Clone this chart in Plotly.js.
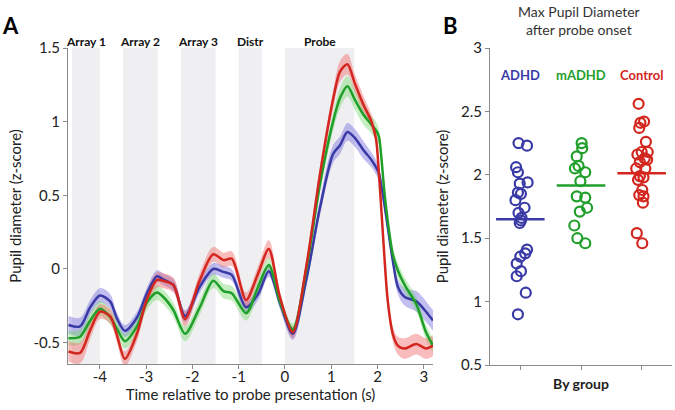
<!DOCTYPE html>
<html>
<head>
<meta charset="utf-8">
<script src="https://cdn.plot.ly/plotly-3.0.1.min.js"></script>
<style>
  html, body { margin: 0; padding: 0; background: #fff; }
  #chart { width: 675px; height: 410px; }
</style>
</head>
<body>
<div id="chart"></div>
<script>
// panel A: pupil time course (z-score)
var time = [-4.68, -4.43, -4.21, -4.0, -3.78, -3.64, -3.46, -3.2, -2.99, -2.77, -2.63, -2.41, -2.16, -1.84,
    -1.55, -1.33, -1.15, -0.84, -0.58, -0.35, -0.11, 0.17, 0.46, 0.76, 1.04, 1.19, 1.35, 1.51, 1.69, 1.87,
    1.97, 2.03, 2.08, 2.15, 2.22, 2.33, 2.44, 2.59, 2.84, 3.05, 3.2];

var adhdMean = [-0.38, -0.39, -0.26, -0.18, -0.22, -0.33, -0.42, -0.33, -0.17, -0.05, -0.07, -0.11, -0.32, -0.12,
    0.0, -0.02, -0.04, -0.26, -0.17, -0.015, -0.23, -0.44, -0.075, 0.42, 0.78, 0.84, 0.93, 0.89, 0.81, 0.74,
    0.69, 0.65, 0.57, 0.44, 0.29, 0.06, -0.12, -0.19, -0.22, -0.29, -0.35];
var adhdSem = [0.06, 0.06, 0.05, 0.05, 0.05, 0.04, 0.04, 0.04, 0.04, 0.04, 0.04, 0.04, 0.04, 0.04,
    0.04, 0.04, 0.04, 0.04, 0.04, 0.04, 0.04, 0.04, 0.04, 0.05, 0.06, 0.06, 0.06, 0.06, 0.06, 0.05,
    0.05, 0.05, 0.05, 0.05, 0.05, 0.05, 0.05, 0.06, 0.07, 0.07, 0.07];

var madhdMean = [-0.47, -0.46, -0.35, -0.27, -0.325, -0.40, -0.49, -0.39, -0.23, -0.16, -0.19, -0.28, -0.44, -0.26,
    -0.08, -0.15, -0.165, -0.30, -0.12, 0.027, -0.22, -0.41, -0.007, 0.58, 1.0, 1.16, 1.24, 1.15, 1.05, 0.98,
    0.94, 0.90, 0.77, 0.52, 0.33, 0.10, -0.01, -0.11, -0.24, -0.43, -0.52];
var madhdSem = [0.05, 0.05, 0.05, 0.05, 0.05, 0.05, 0.05, 0.05, 0.05, 0.05, 0.05, 0.05, 0.05, 0.05,
    0.05, 0.05, 0.05, 0.05, 0.05, 0.05, 0.04, 0.04, 0.04, 0.05, 0.06, 0.07, 0.07, 0.07, 0.07, 0.06,
    0.06, 0.05, 0.05, 0.05, 0.05, 0.05, 0.05, 0.05, 0.05, 0.05, 0.05];

var controlMean = [-0.56, -0.57, -0.415, -0.29, -0.32, -0.44, -0.61, -0.44, -0.21, -0.075, -0.08, -0.11, -0.34, -0.075,
    0.10, 0.06, 0.07, -0.21, -0.03, 0.135, -0.19, -0.43, 0.016, 0.65, 1.15, 1.34, 1.39, 1.26, 1.12, 1.0,
    0.88, 0.65, 0.42, 0.08, -0.21, -0.44, -0.52, -0.54, -0.51, -0.54, -0.52];
var controlSem = [0.07, 0.07, 0.06, 0.05, 0.05, 0.05, 0.05, 0.05, 0.05, 0.05, 0.05, 0.05, 0.05, 0.05,
    0.05, 0.05, 0.05, 0.05, 0.05, 0.06, 0.04, 0.04, 0.04, 0.05, 0.06, 0.07, 0.07, 0.06, 0.06, 0.05,
    0.05, 0.05, 0.05, 0.05, 0.05, 0.05, 0.06, 0.07, 0.07, 0.07, 0.07];

// task epochs (grey bands)
var epochLabels = ["Array 1", "Array 2", "Array 3", "Distr", "Probe"];
var epochStart = [-4.6, -3.5, -2.25, -1.0, 0.0];
var epochEnd = [-4.0, -2.75, -1.5, -0.5, 1.5];

// panel B: max pupil diameter per subject
var groups = ["ADHD", "mADHD", "Control"];
var groupMeans = [1.65, 1.915, 2.013];
var adhdX = [0.97, 1.11, 0.93, 0.96, 1.12, 0.99, 0.96, 1.01, 0.92, 1.07, 0.97, 1.02, 0.99, 1.01,
    1.11, 1.08, 1.0, 0.94, 1.01, 0.94, 1.09, 0.96];
var adhdY = [2.25, 2.23, 2.06, 2.02, 1.94, 1.93, 1.86, 1.85, 1.80, 1.74, 1.70, 1.66, 1.62, 1.64,
    1.41, 1.38, 1.355, 1.30, 1.24, 1.20, 1.07, 0.90];
var madhdX = [2.01, 2.02, 1.93, 1.96, 1.90, 2.07, 1.99, 1.93, 2.07, 2.10, 1.98, 1.89, 1.94, 2.07];
var madhdY = [2.25, 2.21, 2.145, 2.07, 2.05, 2.02, 1.95, 1.83, 1.82, 1.74, 1.71, 1.60, 1.50, 1.46];
var controlX = [2.95, 2.98, 3.04, 2.96, 3.07, 3.0, 3.1, 2.93, 3.05, 2.97, 3.09, 2.91, 3.06, 2.97,
    3.03, 2.94, 3.01, 2.96, 3.03, 3.02, 2.92, 3.01];
var controlY = [2.56, 2.41, 2.42, 2.37, 2.26, 2.18, 2.18, 2.16, 2.13, 2.10, 2.12, 2.05, 2.05, 1.99,
    1.98, 1.96, 1.88, 1.84, 1.83, 1.78, 1.54, 1.46];

var colors = ["#3a3aa6", "#1f9f2a", "#d2261e"];
var bandColors = ["rgba(110,100,220,0.42)", "rgba(110,215,100,0.40)", "rgba(240,95,95,0.42)"];
var font = "Lato, 'Open Sans', sans-serif";

function add(a, b, s) {
    return a.map(function (v, i) { return v + s * b[i]; });
}

var traces = [];
var series = [[adhdMean, adhdSem], [madhdMean, madhdSem], [controlMean, controlSem]];
series.forEach(function (s, k) {
    traces.push({x: time, y: add(s[0], s[1], 1), type: "scatter", mode: "lines",
        line: {width: 0, shape: "spline"}, hoverinfo: "skip", showlegend: false});
    traces.push({x: time, y: add(s[0], s[1], -1), type: "scatter", mode: "lines", fill: "tonexty",
        fillcolor: bandColors[k], line: {width: 0, shape: "spline"}, hoverinfo: "skip", showlegend: false});
});
series.forEach(function (s, k) {
    traces.push({x: time, y: s[0], type: "scatter", mode: "lines", name: groups[k],
        line: {color: colors[k], width: 2.5, shape: "spline", smoothing: 0.8}, showlegend: false});
});

// panel B points and mean lines
var pts = [[adhdX, adhdY], [madhdX, madhdY], [controlX, controlY]];
pts.forEach(function (p, k) {
    traces.push({x: p[0], y: p[1], xaxis: "x2", yaxis: "y2", type: "scatter", mode: "markers",
        marker: {symbol: "circle-open", size: 10, color: colors[k], line: {width: 2.2, color: colors[k]}},
        showlegend: false});
    traces.push({x: [k + 1 - 0.4, k + 1 + 0.4], y: [groupMeans[k], groupMeans[k]], xaxis: "x2", yaxis: "y2",
        type: "scatter", mode: "lines", line: {color: colors[k], width: 2.5}, showlegend: false});
});

var shapes = epochStart.map(function (s, i) {
    return {type: "rect", xref: "x", yref: "y", x0: s, x1: epochEnd[i], y0: -0.645, y1: 1.5,
        fillcolor: "#efeff1", line: {width: 0}, layer: "below"};
});

var annotations = epochLabels.map(function (t, i) {
    return {text: t, x: (epochStart[i] + epochEnd[i]) / 2, xref: "x", y: 1 - 42 / 410, yref: "paper",
        xanchor: "center", yanchor: "middle", showarrow: false,
        font: {family: font, size: 12, color: "#111", weight: "bold"}};
});
groups.forEach(function (g, k) {
    annotations.push({text: g, x: k + 1, xref: "x2", y: 2.79, yref: "y2", showarrow: false,
        xanchor: "center", yanchor: "middle",
        font: {family: font, size: 13, color: colors[k], weight: "bold"}});
});
annotations.push({text: "A", x: 11 / 675, y: 1 - 25 / 410, xref: "paper", yref: "paper", showarrow: false,
    xanchor: "center", yanchor: "middle", font: {family: font, size: 22, color: "#000", weight: "bold"}});
annotations.push({text: "B", x: 450 / 675, y: 1 - 25 / 410, xref: "paper", yref: "paper", showarrow: false,
    xanchor: "center", yanchor: "middle", font: {family: font, size: 22, color: "#000", weight: "bold"}});
annotations.push({text: "Max Pupil Diameter<br>after probe onset", x: 579 / 675, y: 1 - 1 / 410,
    xref: "paper", yref: "paper", xanchor: "center", yanchor: "top", showarrow: false,
    font: {family: font, size: 14, color: "#333"}});

var axisCommon = {showgrid: false, zeroline: false, showline: true, linecolor: "#8a8a8a", linewidth: 1.2,
    ticks: "outside", ticklen: 4, tickcolor: "#8a8a8a", tickfont: {family: font, size: 15, color: "#222"}};

var layout = {
    width: 675, height: 410,
    margin: {l: 0, r: 0, t: 0, b: 0},
    paper_bgcolor: "#fff", plot_bgcolor: "rgba(0,0,0,0)",
    showlegend: false,
    xaxis: Object.assign({}, axisCommon, {domain: [68 / 675, 433 / 675], range: [-4.69, 3.2],
        tickvals: [-4, -3, -2, -1, 0, 1, 2, 3], ticktext: ["-4", "-3", "-2", "-1", "0", "1", "2", "3"],
        ticklabelstandoff: -5,
        title: {text: "Time relative to probe presentation (s)", font: {family: font, size: 15, color: "#222"}, standoff: 0}}),
    yaxis: Object.assign({}, axisCommon, {domain: [46 / 410, 362 / 410], range: [-0.645, 1.5],
        tickvals: [-0.5, 0, 0.5, 1, 1.5], ticktext: ["-0.5", "0", "0.5", "1", "1.5"],
        title: {text: "Pupil diameter (z-score)", font: {family: font, size: 15, color: "#222"}, standoff: 8}}),
    xaxis2: Object.assign({}, axisCommon, {domain: [490 / 675, 672 / 675], range: [0.5, 3.5], anchor: "y2",
        tickvals: [1, 2, 3], showticklabels: false,
        title: {text: "By group", font: {family: font, size: 14, color: "#222", weight: "bold"}, standoff: 10}}),
    yaxis2: Object.assign({}, axisCommon, {domain: [45 / 410, 362 / 410], range: [0.5, 3], anchor: "x2",
        tickvals: [0.5, 1, 1.5, 2, 2.5, 3], ticktext: ["0.5", "1", "1.5", "2", "2.5", "3"],
        title: {text: "Pupil diameter (z-score)", font: {family: font, size: 15, color: "#222"}, standoff: 8}}),
    shapes: shapes,
    annotations: annotations
};

Plotly.newPlot("chart", traces, layout, {displayModeBar: false, responsive: false});
</script>
</body>
</html>
